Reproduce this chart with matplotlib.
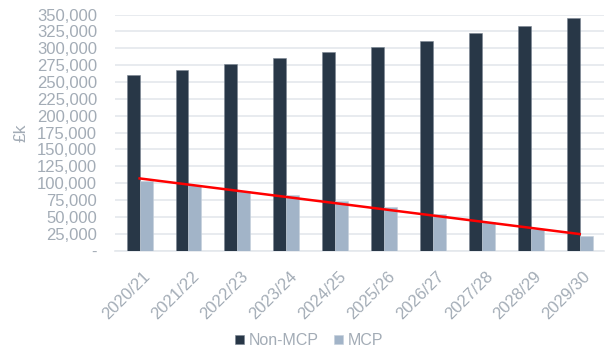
import numpy as np
import matplotlib
matplotlib.use("Agg")
import matplotlib.pyplot as plt
from matplotlib.ticker import FuncFormatter
from matplotlib.transforms import ScaledTranslation

plt.rcParams['font.family'] = ['Liberation Sans', 'DejaVu Sans']

# forecast spend by year (£k)
years = ['2020/21', '2021/22', '2022/23', '2023/24', '2024/25',
         '2025/26', '2026/27', '2027/28', '2028/29', '2029/30']
non_mcp = [261000, 268000, 276000, 285000, 294000,
           302000, 311000, 323000, 333000, 345000]
mcp = [103000, 96500, 89000, 82000, 73000,
       64000, 53500, 43000, 32000, 21000]

dark = '#283747'
light = '#A2B4C8'
grey_txt = '#A3ACB6'
grid_col = '#E4E8EC'

fig = plt.figure(figsize=(6.06, 3.47), dpi=100)
ax = fig.add_axes([0.19, 0.278, 0.807, 0.68])

x = np.arange(len(years))
w = 0.265
ax.bar(x - w / 2, non_mcp, w, color=dark, edgecolor='#7A8692', linewidth=0.4,
       label='Non-MCP', zorder=3)
ax.bar(x + w / 2, mcp, w, color=light, edgecolor='#C4CFDB', linewidth=0.4,
       label='MCP', zorder=3)

# linear trendline on MCP
k, b = np.polyfit(x, mcp, 1)
ax.plot(x, k * x + b, color='#FF0000', linewidth=1.8, zorder=4)

ax.set_xlim(-0.5, len(years) - 0.5)
ax.set_ylim(0, 350000)
ax.set_yticks(np.arange(0, 350001, 25000))
ax.yaxis.set_major_formatter(FuncFormatter(
    lambda v, p: '-' if v == 0 else f'{int(v):,}'))
ax.grid(axis='y', color=grid_col, linewidth=1.2, zorder=0)
ax.set_axisbelow(True)

for s in ['top', 'right', 'left']:
    ax.spines[s].set_visible(False)
ax.spines['bottom'].set_color(grid_col)
ax.spines['bottom'].set_linewidth(1.2)
ax.tick_params(length=0, colors=grey_txt, labelsize=12)
ax.tick_params(axis='y', pad=13)
ax.set_xticks(x)
ax.set_xticklabels(years, rotation=45, ha='right', rotation_mode='anchor')
ax.tick_params(axis='x', pad=13)
# nudge the slanted labels a little to the right
for lbl in ax.get_xticklabels():
    lbl.set_transform(lbl.get_transform() + ScaledTranslation(3 / 100, 0, fig.dpi_scale_trans))

ax.set_ylabel('£k', color=grey_txt, fontsize=12.5, labelpad=6)

fig.legend(loc='lower center', bbox_to_anchor=(0.51, -0.045), ncol=2, frameon=False,
           fontsize=11.5, labelcolor=grey_txt, handlelength=0.55, handleheight=0.55,
           handletextpad=0.3, columnspacing=1.0)

fig.savefig('out.png', dpi=100)
